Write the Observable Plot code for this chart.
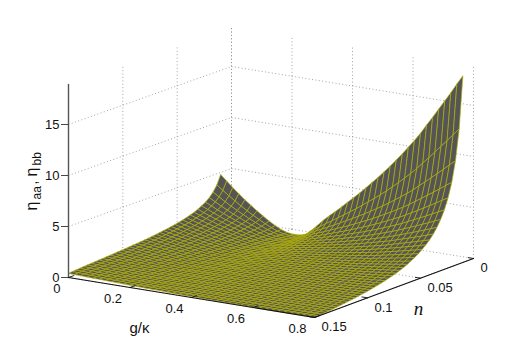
<!DOCTYPE html>
<html><head><meta charset="utf-8">
<style>html,body{margin:0;padding:0;background:#fff}svg{display:block}</style>
<script src="https://cdn.jsdelivr.net/npm/d3@7"></script>
<script src="https://cdn.jsdelivr.net/npm/@observablehq/plot@0.6"></script>
</head><body><div id="chart"></div>
<script>
const gValues=[0,.02,.04,.06,.08,.1,.12,.14,.16,.18,.2,.22,.24,.26,.28,.3,.32,.34,.36,.38,.4,.42,.44,.46,.48,.5,.52,.54,.56,.58,.6,.62,.64,.66,.68,.7,.72,.74,.76,.78,.8];
const nValues=[.01,.0135,.017,.0205,.024,.0275,.031,.0345,.038,.0415,.045,.0485,.052,.0555,.059,.0625,.066,.0695,.073,.0765,.08,.0835,.087,.0905,.094,.0975,.101,.1045,.108,.1115,.115,.1185,.122,.1255,.129,.1325,.136,.1395,.143,.1465,.15];
const eta=[
[4.8,4.25,3.7,3.2,2.7,2.25,1.8,1.4,1.0,.65,.35,.15,.08,.1,.25,.75,1.35,1.95,2.5,3.0,3.55,4.1,4.65,5.2,5.8,6.4,7.0,7.65,8.3,9.0,9.7,10.45,11.2,12.0,12.9,13.75,14.65,15.55,16.45,17.4,18.3],
[3.90,3.46,3.02,2.62,2.21,1.85,1.49,1.17,.85,.57,.33,.16,.10,.12,.23,.59,1.01,1.44,1.84,2.20,2.59,2.99,3.38,3.77,4.20,4.64,5.07,5.53,6.00,6.51,7.01,7.55,8.09,8.67,9.32,9.93,10.58,11.23,11.88,12.56,13.21],
[3.33,2.95,2.58,2.24,1.90,1.60,1.29,1.02,.75,.51,.31,.17,.12,.14,.21,.49,.82,1.15,1.45,1.73,2.03,2.33,2.63,2.94,3.27,3.60,3.94,4.29,4.66,5.04,5.44,5.85,6.27,6.71,7.22,7.69,8.19,8.69,9.20,9.73,10.23],
[2.92,2.60,2.27,1.98,1.68,1.42,1.16,.92,.68,.47,.30,.18,.13,.14,.21,.43,.69,.95,1.19,1.41,1.66,1.90,2.14,2.38,2.65,2.92,3.18,3.47,3.77,4.08,4.39,4.72,5.06,5.42,5.82,6.21,6.61,7.01,7.42,7.85,8.25],
[2.61,2.33,2.04,1.78,1.52,1.29,1.05,.84,.63,.45,.29,.18,.14,.15,.20,.38,.59,.81,1.01,1.19,1.39,1.59,1.79,1.99,2.21,2.44,2.66,2.89,3.14,3.39,3.66,3.93,4.21,4.51,4.84,5.16,5.49,5.83,6.17,6.53,6.86],
[2.38,2.12,1.86,1.62,1.39,1.18,.97,.78,.59,.42,.28,.18,.15,.15,.20,.35,.52,.71,.88,1.03,1.20,1.37,1.53,1.70,1.89,2.08,2.26,2.46,2.67,2.88,3.11,3.34,3.58,3.82,4.11,4.38,4.66,4.94,5.23,5.53,5.82],
[2.18,1.94,1.71,1.50,1.28,1.09,.90,.73,.56,.41,.28,.19,.15,.16,.19,.32,.47,.63,.77,.90,1.05,1.19,1.33,1.48,1.63,1.80,1.95,2.13,2.30,2.49,2.68,2.88,3.08,3.30,3.54,3.77,4.01,4.26,4.51,4.77,5.01],
[2.01,1.80,1.59,1.39,1.19,1.02,.84,.68,.53,.39,.27,.19,.16,.16,.19,.30,.43,.56,.69,.80,.92,1.05,1.17,1.30,1.43,1.58,1.71,1.86,2.01,2.17,2.34,2.51,2.69,2.88,3.09,3.29,3.50,3.72,3.93,4.16,4.37],
[1.88,1.68,1.48,1.30,1.12,.96,.80,.65,.51,.38,.27,.19,.16,.16,.19,.28,.39,.51,.62,.72,.83,.93,1.04,1.15,1.27,1.39,1.51,1.64,1.78,1.92,2.07,2.22,2.37,2.53,2.72,2.90,3.08,3.27,3.46,3.66,3.85],
[1.76,1.58,1.39,1.22,1.06,.91,.76,.62,.49,.37,.27,.20,.16,.17,.19,.27,.37,.47,.57,.65,.75,.84,.93,1.03,1.13,1.25,1.35,1.46,1.58,1.71,1.84,1.97,2.11,2.25,2.42,2.58,2.74,2.91,3.08,3.25,3.42],
[1.65,1.48,1.31,1.16,1.00,.86,.72,.59,.47,.36,.26,.20,.17,.17,.18,.26,.34,.43,.52,.59,.68,.76,.84,.93,1.02,1.12,1.21,1.31,1.42,1.53,1.64,1.76,1.89,2.01,2.16,2.30,2.45,2.60,2.75,2.91,3.06],
[1.56,1.40,1.24,1.10,.95,.82,.69,.57,.46,.35,.26,.20,.17,.17,.18,.25,.32,.40,.48,.54,.62,.69,.77,.84,.92,1.01,1.09,1.18,1.28,1.38,1.48,1.58,1.70,1.81,1.94,2.07,2.20,2.33,2.47,2.61,2.75],
[1.48,1.33,1.18,1.04,.91,.79,.66,.55,.44,.34,.26,.20,.17,.17,.18,.24,.30,.38,.44,.50,.57,.63,.70,.76,.83,.92,.99,1.07,1.16,1.24,1.34,1.43,1.53,1.63,1.75,1.86,1.98,2.10,2.22,2.35,2.47],
[1.41,1.27,1.12,.99,.87,.75,.64,.53,.43,.33,.26,.20,.17,.17,.18,.23,.29,.35,.41,.46,.52,.58,.64,.69,.76,.83,.90,.97,1.04,1.12,1.21,1.29,1.38,1.47,1.58,1.68,1.78,1.89,2.00,2.12,2.23],
[1.34,1.21,1.07,.95,.83,.73,.61,.51,.42,.33,.26,.20,.17,.17,.18,.22,.27,.33,.38,.43,.48,.53,.58,.63,.69,.76,.81,.88,.95,1.02,1.09,1.17,1.25,1.33,1.43,1.52,1.61,1.71,1.81,1.91,2.02],
[1.28,1.15,1.03,.91,.80,.70,.59,.50,.41,.32,.25,.20,.18,.17,.18,.22,.26,.31,.36,.40,.45,.49,.54,.58,.63,.69,.75,.80,.87,.93,1.00,1.06,1.14,1.21,1.30,1.38,1.47,1.56,1.65,1.74,1.83],
[1.22,1.10,.98,.87,.77,.67,.57,.48,.40,.32,.25,.20,.18,.17,.18,.21,.25,.30,.34,.37,.41,.45,.50,.54,.58,.64,.68,.73,.79,.85,.91,.97,1.04,1.10,1.18,1.26,1.33,1.41,1.50,1.58,1.66],
[1.17,1.06,.94,.84,.74,.65,.55,.47,.39,.31,.25,.20,.18,.17,.18,.21,.24,.28,.32,.35,.39,.42,.46,.49,.53,.58,.62,.67,.72,.77,.83,.88,.95,1.00,1.07,1.14,1.21,1.29,1.36,1.44,1.51],
[1.12,1.01,.91,.81,.71,.63,.54,.46,.38,.31,.25,.20,.18,.17,.18,.20,.23,.27,.30,.33,.36,.39,.42,.46,.49,.54,.57,.61,.66,.71,.76,.81,.86,.92,.98,1.04,1.11,1.17,1.24,1.31,1.38],
[1.07,.97,.87,.78,.68,.61,.52,.44,.37,.30,.25,.20,.18,.17,.18,.20,.22,.25,.28,.31,.34,.37,.39,.42,.45,.49,.53,.56,.61,.65,.69,.74,.79,.84,.89,.95,1.00,1.07,1.13,1.19,1.26],
[1.03,.94,.84,.75,.66,.59,.51,.43,.37,.30,.25,.20,.18,.17,.18,.20,.22,.24,.27,.29,.32,.34,.37,.39,.42,.46,.48,.52,.56,.59,.63,.67,.72,.76,.82,.87,.92,.97,1.03,1.09,1.14],
[.99,.90,.81,.73,.64,.57,.49,.42,.36,.30,.25,.20,.18,.17,.18,.19,.21,.23,.26,.27,.30,.32,.34,.36,.39,.42,.45,.47,.51,.54,.58,.61,.66,.69,.74,.79,.83,.89,.94,.99,1.04],
[.95,.87,.78,.70,.62,.55,.48,.41,.35,.29,.25,.20,.19,.17,.18,.19,.20,.22,.24,.26,.28,.30,.32,.34,.36,.39,.41,.43,.47,.49,.53,.56,.60,.63,.68,.72,.76,.80,.85,.90,.95],
[.92,.84,.75,.68,.60,.54,.47,.40,.35,.29,.24,.20,.19,.17,.18,.19,.20,.22,.23,.25,.26,.28,.29,.31,.33,.36,.38,.40,.43,.45,.48,.51,.55,.58,.62,.65,.69,.73,.77,.82,.86],
[.88,.81,.73,.65,.58,.52,.46,.39,.34,.29,.24,.20,.19,.17,.18,.19,.19,.21,.22,.23,.25,.26,.28,.29,.30,.33,.35,.36,.39,.41,.44,.46,.50,.52,.56,.59,.62,.66,.70,.74,.78],
[.85,.77,.70,.63,.56,.51,.44,.39,.34,.28,.24,.20,.19,.18,.17,.18,.19,.20,.21,.22,.23,.24,.26,.27,.28,.30,.32,.33,.36,.38,.40,.42,.45,.47,.51,.54,.56,.60,.63,.67,.70],
[.82,.75,.68,.61,.55,.49,.43,.38,.33,.28,.24,.20,.19,.18,.17,.18,.18,.19,.20,.21,.22,.23,.24,.25,.26,.28,.29,.30,.33,.34,.36,.38,.41,.43,.46,.49,.51,.54,.57,.60,.63],
[.79,.72,.65,.59,.53,.48,.42,.37,.33,.28,.24,.20,.19,.18,.17,.18,.18,.19,.19,.20,.21,.21,.22,.23,.24,.26,.27,.28,.30,.31,.33,.35,.37,.38,.41,.44,.46,.48,.51,.54,.57],
[.76,.69,.63,.57,.51,.47,.41,.36,.32,.27,.24,.20,.19,.18,.17,.18,.17,.18,.18,.19,.20,.20,.21,.21,.22,.24,.24,.25,.27,.28,.30,.31,.33,.34,.37,.39,.41,.43,.46,.48,.51],
[.73,.67,.61,.55,.50,.46,.40,.35,.32,.27,.24,.20,.19,.18,.17,.17,.17,.17,.18,.18,.18,.19,.19,.20,.20,.22,.22,.23,.24,.25,.27,.28,.29,.30,.33,.35,.36,.38,.40,.43,.45],
[.70,.65,.59,.54,.48,.44,.39,.35,.31,.27,.24,.20,.19,.18,.17,.17,.17,.17,.17,.17,.17,.18,.18,.18,.18,.20,.20,.21,.22,.23,.24,.26,.26,.27,.29,.31,.32,.34,.36,.38,.40],
[.67,.62,.57,.52,.47,.43,.38,.34,.31,.27,.24,.20,.19,.18,.17,.17,.16,.16,.16,.16,.17,.17,.17,.17,.17,.18,.18,.18,.20,.20,.21,.23,.23,.24,.25,.27,.28,.30,.31,.33,.35],
[.65,.60,.55,.50,.45,.42,.37,.33,.30,.26,.24,.21,.19,.18,.17,.17,.16,.16,.16,.15,.16,.16,.16,.15,.15,.16,.16,.16,.18,.18,.19,.19,.20,.21,.22,.24,.24,.26,.27,.29,.30],
[.62,.57,.53,.48,.44,.41,.37,.33,.30,.26,.24,.21,.19,.18,.17,.17,.16,.15,.15,.15,.15,.15,.14,.14,.14,.15,.15,.15,.16,.15,.16,.17,.18,.18,.19,.20,.21,.22,.23,.24,.25],
[.59,.55,.51,.47,.42,.40,.36,.32,.29,.26,.24,.21,.19,.18,.17,.17,.15,.15,.15,.14,.14,.14,.13,.13,.13,.13,.13,.13,.14,.13,.14,.15,.15,.15,.16,.17,.18,.18,.19,.20,.21],
[.57,.53,.49,.45,.41,.38,.35,.31,.29,.26,.23,.21,.19,.18,.17,.17,.15,.15,.14,.14,.13,.13,.12,.12,.11,.12,.11,.11,.12,.11,.12,.12,.13,.13,.13,.14,.15,.15,.16,.16,.17],
[.54,.50,.47,.43,.40,.37,.34,.31,.28,.25,.23,.21,.19,.18,.17,.16,.15,.14,.14,.13,.13,.12,.11,.11,.10,.10,.10,.09,.10,.10,.10,.10,.10,.10,.11,.11,.12,.12,.13,.13,.13],
[.51,.48,.45,.41,.38,.36,.33,.30,.28,.25,.23,.21,.20,.18,.17,.16,.15,.14,.13,.13,.12,.11,.11,.10,.09,.09,.09,.08,.08,.08,.08,.08,.08,.08,.08,.08,.09,.09,.09,.09,.10],
[.48,.45,.42,.39,.37,.35,.32,.29,.27,.25,.23,.21,.20,.18,.17,.16,.14,.14,.13,.12,.11,.10,.10,.09,.08,.08,.07,.06,.07,.06,.06,.06,.05,.05,.05,.05,.05,.05,.06,.06,.06],
[.45,.43,.40,.37,.35,.33,.31,.28,.27,.25,.23,.21,.20,.18,.17,.16,.14,.13,.12,.12,.10,.10,.09,.08,.07,.07,.06,.05,.05,.05,.04,.04,.04,.03,.03,.03,.02,.03,.03,.03,.03],
[.40,.38,.36,.34,.32,.31,.29,.27,.26,.24,.23,.21,.20,.18,.17,.16,.14,.13,.12,.11,.10,.09,.08,.07,.06,.06,.05,.04,.04,.03,.03,.02,.02,.01,.01,.01,0,0,0,0,0]
];
const gTicks=[0,.2,.4,.6,.8], gTickLabels=["0","0.2","0.4","0.6","0.8"];
const nTicks=[0,.05,.1,.15], nTickLabels=["0","0.05","0.1","0.15"];
const zTicks=[0,5,10,15], zTickLabels=["0","5","10","15"];
const gMax=.8, nMax=.15, zTop=18.92;

// view of the 3-D box, seen from the (g max, n max) corner, with a slight perspective term
const view={x0:231,y0:219,gx:242,gy:39,nx:-163,ny:58,zy:-10.2,px:4,py:1};
const px=(g,n)=>view.x0+g/gMax*view.gx+n/nMax*view.nx+g/gMax*n/nMax*view.px;
const py=(g,n,z=0)=>view.y0+g/gMax*view.gy+n/nMax*view.ny+g/gMax*n/nMax*view.py+z*view.zy;
const P=(id,g,n,z=0)=>({id,x:px(g,n),y:py(g,n,z)});

// surface quads, far to near
const quads=[];
gValues.slice(0,-1).forEach((g,j)=>{nValues.slice(0,-1).forEach((n,k)=>{
  const id=j+"-"+k,g2=gValues[j+1],n2=nValues[k+1];
  quads.push(P(id,g,n,eta[k][j]),P(id,g2,n,eta[k][j+1]),P(id,g2,n2,eta[k+1][j+1]),P(id,g,n2,eta[k+1][j]),P(id,g,n,eta[k][j]));
});});

// dotted grid on the two walls and the floor
const grid=[];
const seg=(id,a,b)=>grid.push(P(id,...a),P(id,...b));
gTicks.forEach(g=>{seg("gw"+g,[g,0,0],[g,0,zTop]);seg("gf"+g,[g,0,0],[g,nMax,0]);});
nTicks.forEach(n=>{seg("nw"+n,[0,n,0],[0,n,zTop]);seg("nf"+n,[0,n,0],[gMax,n,0]);});
zTicks.slice(1).forEach(z=>{seg("za"+z,[0,nMax,z],[0,0,z]);seg("zb"+z,[0,0,z],[gMax,0,z]);});

const ticks=[];
const tk=(id,a,b)=>ticks.push(P(id,...a),P(id,...b));
gTicks.forEach(g=>tk("g"+g,[g,nMax,0],[g,nMax-.0046,0]));
nTicks.forEach(n=>tk("n"+n,[gMax,n,0],[gMax-.017,n,0]));

const font="Liberation Sans, Arial, Helvetica, sans-serif";
const zAxisX=px(0,nMax);
const plot=Plot.plot({
  width:523,height:356,margin:0,
  x:{domain:[0,523],range:[0,523],axis:null},
  y:{domain:[0,356],range:[0,356],axis:null},
  style:{background:"#fff",fontFamily:font},
  marks:[
    Plot.line(grid,{x:"x",y:"y",z:"id",stroke:"#8c8c8c",strokeWidth:.8,strokeDasharray:"1,2.4",strokeLinecap:"butt"}),
    Plot.line(quads,{x:"x",y:"y",z:"id",fill:"#555555",stroke:"#b2b200",strokeWidth:.65,strokeLinejoin:"round"}),
    Plot.line([P("a",0,nMax,0),P("a",gMax,nMax,0),P("a",gMax,0,0)],{x:"x",y:"y",z:"id",stroke:"#111",strokeWidth:1.1}),
    Plot.line([P("z",0,nMax,0),P("z",0,nMax,zTop)],{x:"x",y:"y",z:"id",stroke:"#555",strokeWidth:1.4}),
    Plot.line(ticks,{x:"x",y:"y",z:"id",stroke:"#111",strokeWidth:.9}),
    Plot.ruleY(zTicks,{x1:zAxisX-7,x2:zAxisX,y:z=>py(0,nMax,z),stroke:"#333",strokeWidth:.9}),
    Plot.text(zTicks,{x:zAxisX,y:z=>py(0,nMax,z),text:(d,i)=>zTickLabels[i],dx:-9,textAnchor:"end",fontSize:13,fill:"#111"}),
    Plot.text(gTicks,{x:g=>px(g,nMax),y:g=>py(g,nMax),text:(d,i)=>gTickLabels[i],dx:-8,dy:11,textAnchor:"end",fontSize:13,fill:"#111"}),
    Plot.text(nTicks,{x:n=>px(gMax,n),y:n=>py(gMax,n),text:(d,i)=>nTickLabels[i],dx:7,dy:9.5,textAnchor:"start",fontSize:13,fill:"#111"}),
    Plot.text(["g/κ"],{x:[139],y:[328],text:d=>d,fontSize:15,fill:"#111"}),
    Plot.text(["n"],{x:[418],y:[308],text:d=>d,fontSize:19,fontStyle:"italic",fontFamily:"Liberation Serif, serif",fill:"#111"}),
    Plot.text(["η"],{x:[36],y:[210],text:d=>d,rotate:-90,textAnchor:"start",lineAnchor:"bottom",fontSize:16,fill:"#111"}),
    Plot.text(["aa"],{x:[40],y:[199],text:d=>d,rotate:-90,textAnchor:"start",lineAnchor:"bottom",fontSize:12,fill:"#111"}),
    Plot.text([","],{x:[36],y:[184],text:d=>d,rotate:-90,textAnchor:"start",lineAnchor:"bottom",fontSize:14,fill:"#111"}),
    Plot.text(["η"],{x:[36],y:[176],text:d=>d,rotate:-90,textAnchor:"start",lineAnchor:"bottom",fontSize:16,fill:"#111"}),
    Plot.text(["bb"],{x:[40],y:[165],text:d=>d,rotate:-90,textAnchor:"start",lineAnchor:"bottom",fontSize:12,fill:"#111"})
  ]
});
document.getElementById("chart").append(plot);
</script></body></html>
